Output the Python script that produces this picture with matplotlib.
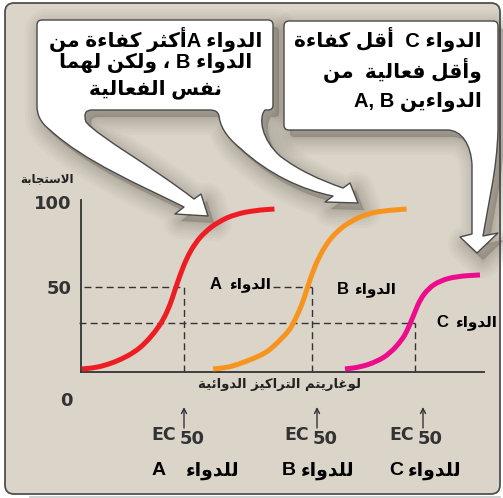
import re
import matplotlib
matplotlib.use("Agg")
import matplotlib.pyplot as plt
from matplotlib.patches import FancyBboxPatch, PathPatch
from matplotlib.path import Path
from matplotlib.transforms import Affine2D

# values: x = log concentration (0..10), y = response (%)
drug_a_x = [0.02, 0.35, 0.68, 1.01, 1.34, 1.59, 1.84, 2.04, 2.21, 2.33, 2.46, 2.62, 2.83, 3.08, 3.41, 3.82, 4.32, 4.80]
drug_a_y = [1.8, 2.5, 4.5, 7.6, 11.9, 16.9, 23.7, 30.6, 39.4, 48.2, 57.1, 66.9, 75.7, 82.5, 88.4, 92.8, 95.1, 95.9]
drug_b_x = [3.28, 3.62, 3.90, 4.24, 4.57, 4.80, 4.98, 5.16, 5.29, 5.48, 5.60, 5.72, 5.89, 6.10, 6.34, 6.67, 7.13, 7.63, 8.08]
drug_b_y = [1.8, 2.6, 4.5, 7.6, 11.0, 15.5, 19.8, 24.2, 29.6, 39.4, 48.2, 57.1, 66.9, 75.7, 82.5, 88.4, 93.5, 95.1, 95.9]
drug_c_x = [6.55, 6.92, 7.34, 7.67, 7.96, 8.08, 8.18, 8.29, 8.41, 8.62, 8.91, 9.32, 9.90]
drug_c_y = [1.8, 2.8, 6.1, 11.0, 18.8, 23.7, 29.2, 35.5, 42.4, 49.2, 53.7, 56.3, 57.1]

ec50_x = [2.56, 5.72, 8.29]
ec50_level = [50, 50, 29]
y_ticks = [50, 100]
drug_letters = ["A", "B", "C"]
curve_colors = ["#ee1d24", "#f7941d", "#ec0c8c"]

drug_word = "الدواء"
for_drug = "للدواء"
y_label = "الاستجابة"
x_label = "لوغاريتم التراكيز الدوائية"
bubble1_lines = ["الدواء Aأكثر كفاءة من", "الدواء B ، ولكن لهما", "نفس الفعالية"]
bubble2_lines = ["الدواء C  أقل كفاءة", "وأقل فعالية  من", "الدواءين A, B"]

# --- small arabic shaper (matplotlib has no complex text layout) ---
FORMS = {
    'ء': (0xFE80, 1), 'آ': (0xFE81, 2), 'أ': (0xFE83, 2), 'ؤ': (0xFE85, 2), 'إ': (0xFE87, 2),
    'ئ': (0xFE89, 4), 'ا': (0xFE8D, 2), 'ب': (0xFE8F, 4), 'ة': (0xFE93, 2), 'ت': (0xFE95, 4),
    'ث': (0xFE99, 4), 'ج': (0xFE9D, 4), 'ح': (0xFEA1, 4), 'خ': (0xFEA5, 4), 'د': (0xFEA9, 2),
    'ذ': (0xFEAB, 2), 'ر': (0xFEAD, 2), 'ز': (0xFEAF, 2), 'س': (0xFEB1, 4), 'ش': (0xFEB5, 4),
    'ص': (0xFEB9, 4), 'ض': (0xFEBD, 4), 'ط': (0xFEC1, 4), 'ظ': (0xFEC5, 4), 'ع': (0xFEC9, 4),
    'غ': (0xFECD, 4), 'ف': (0xFED1, 4), 'ق': (0xFED5, 4), 'ك': (0xFED9, 4), 'ل': (0xFEDD, 4),
    'م': (0xFEE1, 4), 'ن': (0xFEE5, 4), 'ه': (0xFEE9, 4), 'و': (0xFEED, 2), 'ى': (0xFEEF, 2),
    'ي': (0xFEF1, 4),
}
LAM_ALEF = {'آ': 0xFEF5, 'أ': 0xFEF7, 'إ': 0xFEF9, 'ا': 0xFEFB}


def shape(text):
    out, prev, i, n = [], None, 0, len(text)
    dual = lambda c: c in FORMS and FORMS[c][1] == 4
    while i < n:
        c = text[i]
        if c not in FORMS:
            out.append(c); prev = None; i += 1
            continue
        if c == 'ل' and i + 1 < n and text[i + 1] in LAM_ALEF:
            out.append(chr(LAM_ALEF[text[i + 1]] + (1 if prev and dual(prev) else 0)))
            prev = 'ا'; i += 2
            continue
        base, k = FORMS[c]
        nxt = text[i + 1] if i + 1 < n else None
        jp = prev is not None and dual(prev)
        jn = k == 4 and nxt in FORMS and nxt != 'ء'
        if k == 1:
            code = base
        elif k == 2:
            code = base + (1 if jp else 0)
        else:
            code = base + (3 if jp and jn else 1 if jp else 2 if jn else 0)
        out.append(chr(code)); prev = c; i += 1
    return ''.join(out)


def ar(text):
    s = shape(text)[::-1]
    return re.sub(r'[A-Za-z0-9][A-Za-z0-9 ,]*[A-Za-z0-9]|[A-Za-z0-9]', lambda m: m.group(0)[::-1], s)


def build(segs):
    verts, codes = [], []
    for s in segs:
        if s[0] == 'M':
            verts.append(s[1]); codes.append(Path.MOVETO)
        elif s[0] == 'L':
            verts.append(s[1]); codes.append(Path.LINETO)
        elif s[0] == 'Q':
            verts += [s[1], s[2]]; codes += [Path.CURVE3] * 2
        elif s[0] == 'C':
            verts += [s[1], s[2], s[3]]; codes += [Path.CURVE4] * 3
        else:
            verts.append(verts[0]); codes.append(Path.CLOSEPOLY)
    return Path(verts, codes)


def smooth(xs, ys):
    # read points used as quadratic control points, so the stroke has no corners
    pts = list(zip(xs, ys))
    mid = lambda p, q: ((p[0] + q[0]) / 2, (p[1] + q[1]) / 2)
    segs = [('M', pts[0]), ('L', mid(pts[0], pts[1]))]
    for i in range(1, len(pts) - 1):
        segs.append(('Q', pts[i], mid(pts[i], pts[i + 1])))
    segs.append(('L', pts[-1]))
    return build(segs)


def bubble(ax, path):
    sh = path.transformed(Affine2D().translate(6, 7))
    for lw in [26, 22, 18, 14, 11, 8, 5, 3, 1]:
        ax.add_patch(PathPatch(sh, fc=(0.33, 0.29, 0.25, 0.035), ec=(0.33, 0.29, 0.25, 0.035),
                               lw=lw, joinstyle='round'))
    ax.add_patch(PathPatch(path, fc='white', ec='#4a4a4a', lw=1.0, joinstyle='round'))


BG = "#dbd4c9"
DARK = "#333333"
MIX = ["Liberation Sans", "DejaVu Sans"]

fig = plt.figure(figsize=(5.03, 4.98), dpi=100)
fig.patch.set_facecolor("white")

# pixel overlay for the frame, the callouts and loose labels
ov = fig.add_axes([0, 0, 1, 1])
ov.set_xlim(0, 503)
ov.set_ylim(498, 0)
ov.axis("off")
ov.add_patch(FancyBboxPatch((5, 3), 495, 491, boxstyle="round,pad=0,rounding_size=9",
                            fc=BG, ec="#505050", lw=1.3))
ov.plot([30, 500], [496.5, 496.5], color="#c8c8c8", lw=1.2)

b1 = build([
    ('M', (42, 20)), ('L', (268, 20)), ('Q', (273, 20), (273, 25)), ('L', (273, 105)),
    ('Q', (273, 110), (268, 110)), ('L', (265, 110)),
    ('C', (258, 118), (262, 140), (280, 156)), ('C', (298, 170), (320, 180), (343, 188)),
    ('L', (350, 183)), ('L', (358, 203)), ('L', (325, 202)), ('L', (333, 196)),
    ('C', (302, 190), (268, 174), (240, 148)), ('C', (225, 136), (220, 125), (219, 116)),
    ('Q', (218, 110), (210, 110)), ('L', (92, 110)), ('Q', (82, 110), (86, 122)),
    ('C', (100, 138), (150, 165), (194, 199)),
    ('L', (201, 194)), ('L', (208, 216)), ('L', (175, 214)), ('L', (184, 207)),
    ('C', (140, 185), (85, 162), (50, 130)), ('C', (40, 122), (37, 115), (37, 105)),
    ('L', (37, 25)), ('Q', (37, 20), (42, 20)), ('Z',)])
b2 = build([
    ('M', (289, 21)), ('L', (493, 21)), ('Q', (498, 21), (498, 26)), ('L', (498, 130)),
    ('C', (497, 170), (488, 205), (483, 236)),
    ('L', (498, 233)), ('L', (477, 253)), ('L', (460, 237)), ('L', (472, 234)),
    ('L', (472, 165)), ('C', (471, 145), (462, 130), (447, 130)),
    ('L', (289, 130)), ('Q', (284, 130), (284, 125)), ('L', (284, 26)),
    ('Q', (284, 21), (289, 21)), ('Z',)])
bubble(ov, b1)
bubble(ov, b2)

for y, line in zip([39, 63, 89], bubble1_lines):
    ov.text(156, y, ar(line), family=MIX, weight="bold", fontsize=14.5, ha="center", va="center")
for y, line in zip([39, 70, 102], bubble2_lines):
    ov.text(482, y, ar(line), family=MIX, weight="bold", fontsize=14.5, ha="right", va="center")

ov.text(47, 179, ar(y_label), family="DejaVu Sans", weight="bold", fontsize=8.5,
        ha="center", va="center", color="#222222")
ov.text(280, 384, ar(x_label), family="DejaVu Sans", weight="bold", fontsize=9.5,
        ha="center", va="center", color="#222222")
ov.text(73, 401, "0", family="DejaVu Sans", weight="bold", fontsize=13, ha="right",
        va="center", color=DARK)

# EC50 markers and drug names under the axis
for xa, xt, xl, xw, letter in zip([184, 317, 423], [164, 297, 402], [159, 289, 396],
                                  [213, 328, 435], drug_letters):
    ov.annotate("", xy=(xa, 407), xytext=(xa, 428),
                arrowprops=dict(arrowstyle="->", lw=1.0, color=DARK, shrinkA=0, shrinkB=0,
                                mutation_scale=9))
    ov.text(xt, 435, "EC", family="DejaVu Sans", weight="bold", fontsize=12.5, ha="center",
            va="center", color=DARK)
    ov.text(xt + 28, 439, "50", family="DejaVu Sans", weight="bold", fontsize=13,
            ha="center", va="center", color=DARK)
    ov.text(xl, 470, letter, family="Liberation Sans", weight="bold", fontsize=14,
            ha="center", va="center", color="black")
    ov.text(xw, 470, ar(for_drug), family="DejaVu Sans", weight="bold", fontsize=13.5,
            ha="center", va="center", color="black")

# the dose-response chart itself
ax = fig.add_axes([81 / 503, (498 - 372) / 498, 403 / 503, 172 / 498])
ax.patch.set_alpha(0)
ax.set_xlim(0, 10)
ax.set_ylim(0, 101.2)
for side in ["top", "right"]:
    ax.spines[side].set_visible(False)
for side in ["left", "bottom"]:
    ax.spines[side].set_color(DARK)
    ax.spines[side].set_linewidth(1.3)
ax.set_xticks([])
ax.set_yticks(y_ticks)
ax.set_yticklabels([str(v) for v in y_ticks], family="DejaVu Sans", weight="bold",
                   fontsize=13, color=DARK)
ax.tick_params(axis="y", length=0, pad=7)

dash = dict(color=DARK, lw=1.0, linestyle=(0, (5, 3)))
ax.plot([0.07, ec50_x[0]], [ec50_level[0]] * 2, **dash)
ax.plot([4.76, ec50_x[1]], [ec50_level[1]] * 2, **dash)
ax.plot([-0.05, ec50_x[2]], [ec50_level[2]] * 2, clip_on=False, **dash)
for xe, ye in zip(ec50_x, ec50_level):
    ax.plot([xe, xe], [0, ye], **dash)

for xs, ys, col in zip([drug_a_x, drug_b_x, drug_c_x], [drug_a_y, drug_b_y, drug_c_y],
                       curve_colors):
    ax.add_patch(PathPatch(smooth(xs, ys), fill=False, ec=col, lw=3.6, capstyle="butt",
                           joinstyle="round", clip_on=False, zorder=3))

# curve labels
for (lx, ly), (wx, wy), letter in zip([(3.35, 51.2), (6.51, 48.8), (8.97, 29.4)],
                                      [(4.19, 51.2), (7.30, 48.8), (9.80, 29.4)],
                                      drug_letters):
    ax.text(lx, ly, letter, family="Liberation Sans", weight="bold", fontsize=12,
            ha="center", va="center", color="black")
    ax.text(wx, wy, ar(drug_word), family="DejaVu Sans", weight="bold", fontsize=11,
            ha="center", va="center", color="black", clip_on=False)

fig.savefig("out.png", dpi=100)
